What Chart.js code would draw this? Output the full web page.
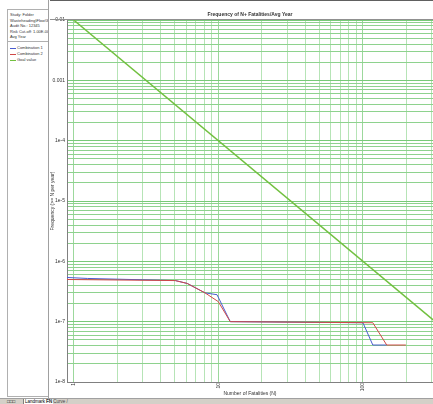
<!DOCTYPE html>
<html>
<head>
<meta charset="utf-8">
<script src="https://cdn.jsdelivr.net/npm/chart.js@4.4.1/dist/chart.umd.min.js"></script>
<style>
  html,body{margin:0;padding:0;background:#fff;width:433px;height:404px;overflow:hidden;font-family:"Liberation Sans",Arial,sans-serif;}
  #panel{position:absolute;left:0;top:0;width:48px;height:398px;border-right:1px solid #a0a0a0;background:#fff;}
  #box{position:absolute;left:7px;top:9px;width:40px;height:386px;border:1px solid #b0b0b0;border-right:none;overflow:hidden;font-size:4px;line-height:5.6px;color:#333;white-space:nowrap;}
  #info{padding:2px 0 2px 2px;border-bottom:1px solid #b0b0b0;height:27px;}
  .leg{position:relative;padding-left:9px;height:6px;line-height:6px;}
  .leg i{position:absolute;left:2px;top:3px;width:6px;height:1px;}
  #wrap{position:absolute;left:50px;top:0;width:383px;height:398px;}
  #topline{position:absolute;left:50px;top:0;width:383px;height:1px;background:#606060;}
  #bottom{position:absolute;left:0;top:398px;width:433px;height:6px;background:#d4d0c8;border-top:1px solid #a0a0a0;font-size:4.5px;line-height:5px;color:#000;}
  #bottom span{position:absolute;top:0;}
</style>
</head>
<body>
<div id="panel">
  <div id="box">
    <div id="info">Study: Folder<br>Wasteheading\Flow\300.cco<br>Audit No.: 12345<br>Risk Cut-off: 1.00E-008 to 20<br>Avg Year</div>
    <div style="height:3px"></div>
    <div class="leg"><i style="background:#4a5cd0"></i>Combination 1</div>
    <div class="leg"><i style="background:#d04848"></i>Combination 2</div>
    <div class="leg"><i style="background:#72c040"></i>Goal value</div>
  </div>
</div>
<div id="wrap"><canvas id="c" width="383" height="398"></canvas></div>
<div id="topline"></div>
<div id="bottom">
  <span style="left:7px;width:16px;border-right:1px solid #808080;">&#9633;&#9633;&#9633;</span>
  <span style="left:24px;background:#fff;padding:0 1px;">Landmark FN</span>
  <span style="left:45px;padding:0 1px;color:#444;">FN Curve /</span>
</div>
<script>
// ---- data ----
const combo1N = [0.9, 1.25, 5.05, 6.1, 8.1, 9.8, 12.1, 100, 117, 146];
const combo1F = [5.4e-7, 5.2e-7, 4.8e-7, 4.3e-7, 3.0e-7, 2.8e-7, 1.0e-7, 9.6e-8, 4.1e-8, 4.1e-8];
const combo2N = [0.9, 5.05, 6.1, 8.1, 10, 12.1, 117, 146, 198];
const combo2F = [5.0e-7, 4.8e-7, 4.3e-7, 3.0e-7, 2.15e-7, 1.0e-7, 9.6e-8, 4.1e-8, 4.1e-8];
const goalN = [1, 1000];
const goalF = [0.01, 1e-8];

const xTickValues = [1, 10, 100];
const xTickLabels = ['1', '10', '100'];
const yTickValues = [1e-2, 1e-3, 1e-4, 1e-5, 1e-6, 1e-7, 1e-8];
const yTickLabels = ['0.01', '0.001', '1e-4', '1e-5', '1e-6', '1e-7', '1e-8'];

const seriesNames = ['Combination 1', 'Combination 2', 'Goal value'];
const titleText = 'Frequency of N+ Fatalities/Avg Year';
const xTitle = 'Number of Fatalities (N)';
const yTitle = 'Frequency (>= N per year)';

function pts(xs, ys){ return xs.map((x,i)=>({x:x, y:ys[i]})); }

function logTicks(min, max){
  const out = [];
  const lo = Math.floor(Math.log10(min)), hi = Math.ceil(Math.log10(max));
  for (let e = lo; e <= hi; e++){
    for (let k = 1; k <= 9; k++){
      const v = k * Math.pow(10, e);
      if (v >= min * 0.9999 && v <= max * 1.0001) out.push({value: v});
    }
  }
  return out;
}
function findLabel(v, vals, labels){
  for (let i = 0; i < vals.length; i++){
    if (Math.abs(Math.log10(v) - Math.log10(vals[i])) < 1e-6) return labels[i];
  }
  return '';
}
function isMajor(v){ const l = Math.log10(v); return Math.abs(l - Math.round(l)) < 1e-6; }

const font5 = {family: '"Liberation Sans", Arial, sans-serif', size: 5};

new Chart(document.getElementById('c'), {
  type: 'line',
  data: {
    datasets: [
      {label: seriesNames[0], data: pts(combo1N, combo1F), borderColor: '#4a5cd0', borderWidth: 1, pointRadius: 0, order: 1},
      {label: seriesNames[1], data: pts(combo2N, combo2F), borderColor: '#d04848', borderWidth: 1, pointRadius: 0, order: 0},
      {label: seriesNames[2], data: pts(goalN, goalF), borderColor: '#72c040', borderWidth: 1.5, pointRadius: 0, order: 2}
    ]
  },
  options: {
    responsive: false,
    animation: false,
    devicePixelRatio: 1,
    layout: {padding: 0},
    plugins: {
      legend: {display: false},
      tooltip: {enabled: false},
      title: {display: true, fullSize: false, text: titleText, color: '#333', font: Object.assign({}, font5, {lineHeight: 1.2}), padding: {top: 12, bottom: 2}}
    },
    scales: {
      x: {
        type: 'logarithmic', min: 0.9, max: 305,
        afterBuildTicks: s => { s.ticks = logTicks(0.9, 305).filter(t => t.value >= 1); },
        afterFit: s => { s.height = 16; s.paddingLeft = 0; s.paddingRight = 0; },
        ticks: {autoSkip: false, minRotation: 90, maxRotation: 90, padding: 1, font: font5, color: '#333',
                callback: v => findLabel(v, xTickValues, xTickLabels)},
        grid: {drawTicks: false, tickLength: 0, lineWidth: 1, color: c => isMajor(c.tick.value) ? '#9cd89c' : '#b6e4b6'},
        border: {display: true, color: '#808080', width: 1},
        title: {display: true, text: xTitle, font: font5, color: '#333', padding: {top: 0, bottom: 1}}
      },
      y: {
        type: 'logarithmic', min: 1e-8, max: 1e-2,
        afterBuildTicks: s => { s.ticks = logTicks(1e-8, 1e-2); },
        afterFit: s => { s.width = 17; s.paddingTop = 0; s.paddingBottom = 0; },
        ticks: {autoSkip: false, padding: 2, font: font5, color: '#333',
                callback: v => findLabel(v, yTickValues, yTickLabels)},
        grid: {drawTicks: false, tickLength: 0, lineWidth: 1, color: c => isMajor(c.tick.value) ? '#78ca78' : '#8ed28e'},
        border: {display: true, color: '#808080', width: 1},
        title: {display: true, text: yTitle, font: font5, color: '#333', padding: 0}
      }
    }
  },
  plugins: [{
    id: 'frame',
    afterDraw(chart){
      const ctx = chart.ctx, a = chart.chartArea;
      ctx.save();
      ctx.strokeStyle = '#909090';
      ctx.lineWidth = 1;
      ctx.beginPath();
      ctx.moveTo(0, Math.round(a.top) - 0.5);
      ctx.lineTo(chart.width, Math.round(a.top) - 0.5);
      ctx.stroke();
      ctx.restore();
    }
  }]
});
</script>
</body>
</html>
